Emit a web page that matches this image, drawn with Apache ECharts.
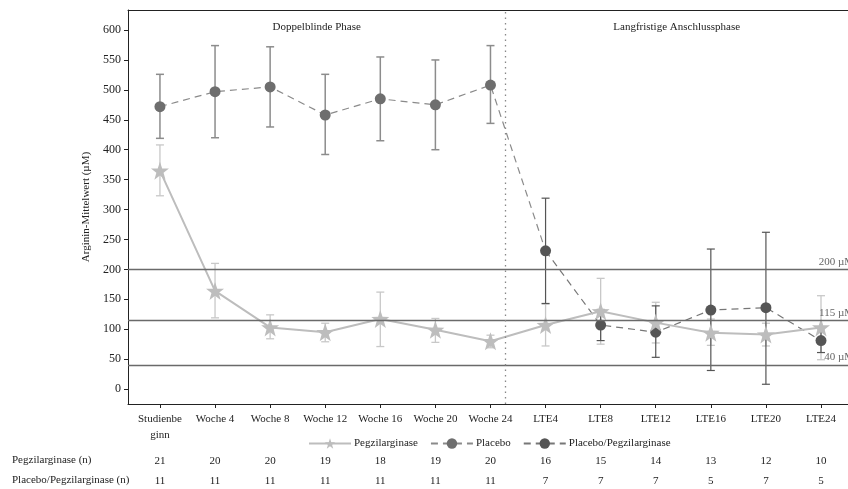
<!DOCTYPE html>
<html><head><meta charset="utf-8">
<script src="https://cdn.jsdelivr.net/npm/echarts@6/dist/echarts.min.js"></script>
<style>html,body{margin:0;padding:0;background:#fff}#c{width:848px;height:489px}</style>
</head><body><div id="c"></div>
<script>
var categories = ['Studienbe\nginn','Woche 4','Woche 8','Woche 12','Woche 16','Woche 20','Woche 24','LTE4','LTE8','LTE12','LTE16','LTE20','LTE24'];
var yTicks = [0,50,100,150,200,250,300,350,400,450,500,550,600];
var pegMean = [365,164,103,95,117,99,80,107,130,111,94,91,103];
var pegLow  = [323,119,84,79,71,78,69,72,75,77,73,72,49];
var pegHigh = [408,210,124,110,162,118,90,142,185,145,117,110,156];
var placeboMean = [472,497,505,458,485,475,508];
var placeboLow  = [419,420,438,392,415,400,444];
var placeboHigh = [526,574,572,526,555,550,574];
var ltePlMean = [231,107,95,132,136,81];
var ltePlLow  = [143,81,53,31,8,61];
var ltePlHigh = [319,133,139,234,262,101];
var pegN = [21,20,20,19,18,19,20,16,15,14,13,12,10];
var plPegN = [11,11,11,11,11,11,11,7,7,7,5,7,5];
var refLines = [200,115,40];
var refLabels = ['200 µM','115 µM','40 µM'];
var phaseSplit = 6.27;
var phaseNames = ['Doppelblinde Phase','Langfristige Anschlussphase'];

var FONT = 'Liberation Serif';
var idx = categories.map(function(_, i){ return i; });
var XMIN = -0.58, XMAX = 12.49, XEND = 12.67;
var star = 'path://M0,-10 L2.35,-3.24 L9.51,-3.09 L3.8,1.24 L5.88,8.09 L0,4 L-5.88,8.09 L-3.8,1.24 L-9.51,-3.09 L-2.35,-3.24 Z';

function errSeries(xs, lo, hi, color, width){
  return {
    type: 'custom', z: 1, silent: true,
    data: xs.map(function(x, i){ return [x, lo[i], hi[i]]; }),
    encode: {x: 0, y: [1, 2]},
    renderItem: function(params, api){
      var x = api.value(0);
      var a = api.coord([x, api.value(2)]);
      var b = api.coord([x, api.value(1)]);
      var w = 4;
      var st = {stroke: color, lineWidth: width};
      return {type: 'group', children: [
        {type: 'line', shape: {x1: a[0], y1: a[1], x2: b[0], y2: b[1]}, style: st},
        {type: 'line', shape: {x1: a[0]-w, y1: a[1], x2: a[0]+w, y2: a[1]}, style: st},
        {type: 'line', shape: {x1: b[0]-w, y1: b[1], x2: b[0]+w, y2: b[1]}, style: st}
      ]};
    }
  };
}

var placeboData = placeboMean.map(function(v, i){ return [i, v]; });
placeboData.push({value: [7, ltePlMean[0]], symbol: 'none'});
var lteData = ltePlMean.map(function(v, i){ return [i + 7, v]; });
var lteIdx = ltePlMean.map(function(_, i){ return i + 7; });

var chart = echarts.init(document.getElementById('c'), null, {renderer: 'canvas'});
chart.setOption({
  animation: false,
  textStyle: {fontFamily: FONT},
  grid: {left: 128, right: 0, top: 10, bottom: 85, show: false},
  legend: {
    left: 303, top: 433, itemWidth: 42, itemHeight: 13, itemGap: 12,
    textStyle: {fontFamily: FONT, fontSize: 11, color: '#222', padding: [0, 0, 0, -2]},
    data: ['Pegzilarginase', 'Placebo', 'Placebo/Pegzilarginase']
  },
  xAxis: [
    {type: 'value', min: XMIN, max: XMAX, splitLine: {show: false},
     axisLine: {onZero: false, lineStyle: {color: '#222'}},
     axisTick: {show: true, length: 4, customValues: idx, lineStyle: {color: '#222'}},
     axisLabel: {customValues: idx, margin: 7, fontFamily: FONT, fontSize: 11, color: '#222', lineHeight: 16,
       formatter: function(v){ return categories[Math.round(v)]; }}},
    {type: 'value', min: XMIN, max: XMAX, position: 'bottom', offset: 57,
     splitLine: {show: false}, axisLine: {show: false}, axisTick: {show: false},
     axisLabel: {customValues: idx, margin: 0, verticalAlign: 'middle', fontFamily: FONT, fontSize: 11, color: '#222',
       formatter: function(v){ return String(pegN[Math.round(v)]); }}},
    {type: 'value', min: XMIN, max: XMAX, position: 'bottom', offset: 77,
     splitLine: {show: false}, axisLine: {show: false}, axisTick: {show: false},
     axisLabel: {customValues: idx, margin: 0, verticalAlign: 'middle', fontFamily: FONT, fontSize: 11, color: '#222',
       formatter: function(v){ return String(plPegN[Math.round(v)]); }}},
    {type: 'value', min: XMIN, max: XMAX, position: 'top',
     splitLine: {show: false}, axisLine: {show: true, onZero: false, lineStyle: {color: '#222'}},
     axisTick: {show: false}, axisLabel: {show: false}}
  ],
  yAxis: {
    type: 'value', min: -25, max: 633.5, splitLine: {show: false},
    name: 'Arginin-Mittelwert (µM)', nameLocation: 'middle', nameGap: 35, nameRotate: 90,
    nameTextStyle: {fontFamily: FONT, fontSize: 11, color: '#222'},
    axisLine: {show: true, onZero: false, lineStyle: {color: '#222'}},
    axisTick: {show: true, length: 4, customValues: yTicks, lineStyle: {color: '#222'}},
    axisLabel: {customValues: yTicks, margin: 7, fontFamily: FONT, fontSize: 12, color: '#222'}
  },
  graphic: [
    {type: 'text', left: 12, top: 455, style: {text: 'Pegzilarginase (n)', fontFamily: FONT, fontSize: 11, fill: '#222'}},
    {type: 'text', left: 12, top: 475, style: {text: 'Placebo/Pegzilarginase (n)', fontFamily: FONT, fontSize: 11, fill: '#222'}}
  ],
  series: [
    {
      name: 'ref', type: 'line', data: [], silent: true,
      markLine: {
        symbol: 'none', silent: true, animation: false,
        data: refLines.map(function(v, i){
          return {yAxis: v, lineStyle: {color: '#6a6a6a', width: 1.3, type: 'solid'},
            label: {show: true, position: 'insideEndTop', distance: [-6, 2], formatter: refLabels[i],
              fontFamily: FONT, fontSize: 11, color: '#666'}};
        }).concat([{xAxis: phaseSplit, lineStyle: {color: '#888', width: 1.3, type: [1.5, 4]}, label: {show: false}}])
      },
      markArea: {
        silent: true,
        itemStyle: {color: 'rgba(0,0,0,0)'},
        label: {position: 'insideTop', distance: 12, fontFamily: FONT, fontSize: 11, color: '#222'},
        data: [
          [{xAxis: XMIN, name: phaseNames[0]}, {xAxis: phaseSplit}],
          [{xAxis: phaseSplit, name: phaseNames[1]}, {xAxis: XEND}]
        ]
      }
    },
    errSeries(idx, pegLow, pegHigh, '#c8c8c8', 1.3),
    errSeries(placeboMean.map(function(_, i){ return i; }), placeboLow, placeboHigh, '#8c8c8c', 1.5),
    errSeries(lteIdx, ltePlLow, ltePlHigh, '#555555', 1.2),
    {
      name: 'Placebo', type: 'line', z: 3, data: placeboData,
      symbol: 'circle', symbolSize: 11,
      itemStyle: {color: '#6e6e6e'},
      lineStyle: {color: '#8a8a8a', width: 1.2, type: [7, 5]}
    },
    {
      name: 'Placebo/Pegzilarginase', type: 'line', z: 3, data: lteData,
      symbol: 'circle', symbolSize: 11,
      itemStyle: {color: '#555555'},
      lineStyle: {color: '#777777', width: 1.2, type: [7, 5]}
    },
    {
      name: 'Pegzilarginase', type: 'line', z: 4, data: pegMean.map(function(v, i){ return [i, v]; }),
      symbol: star, symbolSize: 18,
      itemStyle: {color: '#bdbdbd'},
      lineStyle: {color: '#bdbdbd', width: 2}
    }
  ]
});
</script></body></html>
